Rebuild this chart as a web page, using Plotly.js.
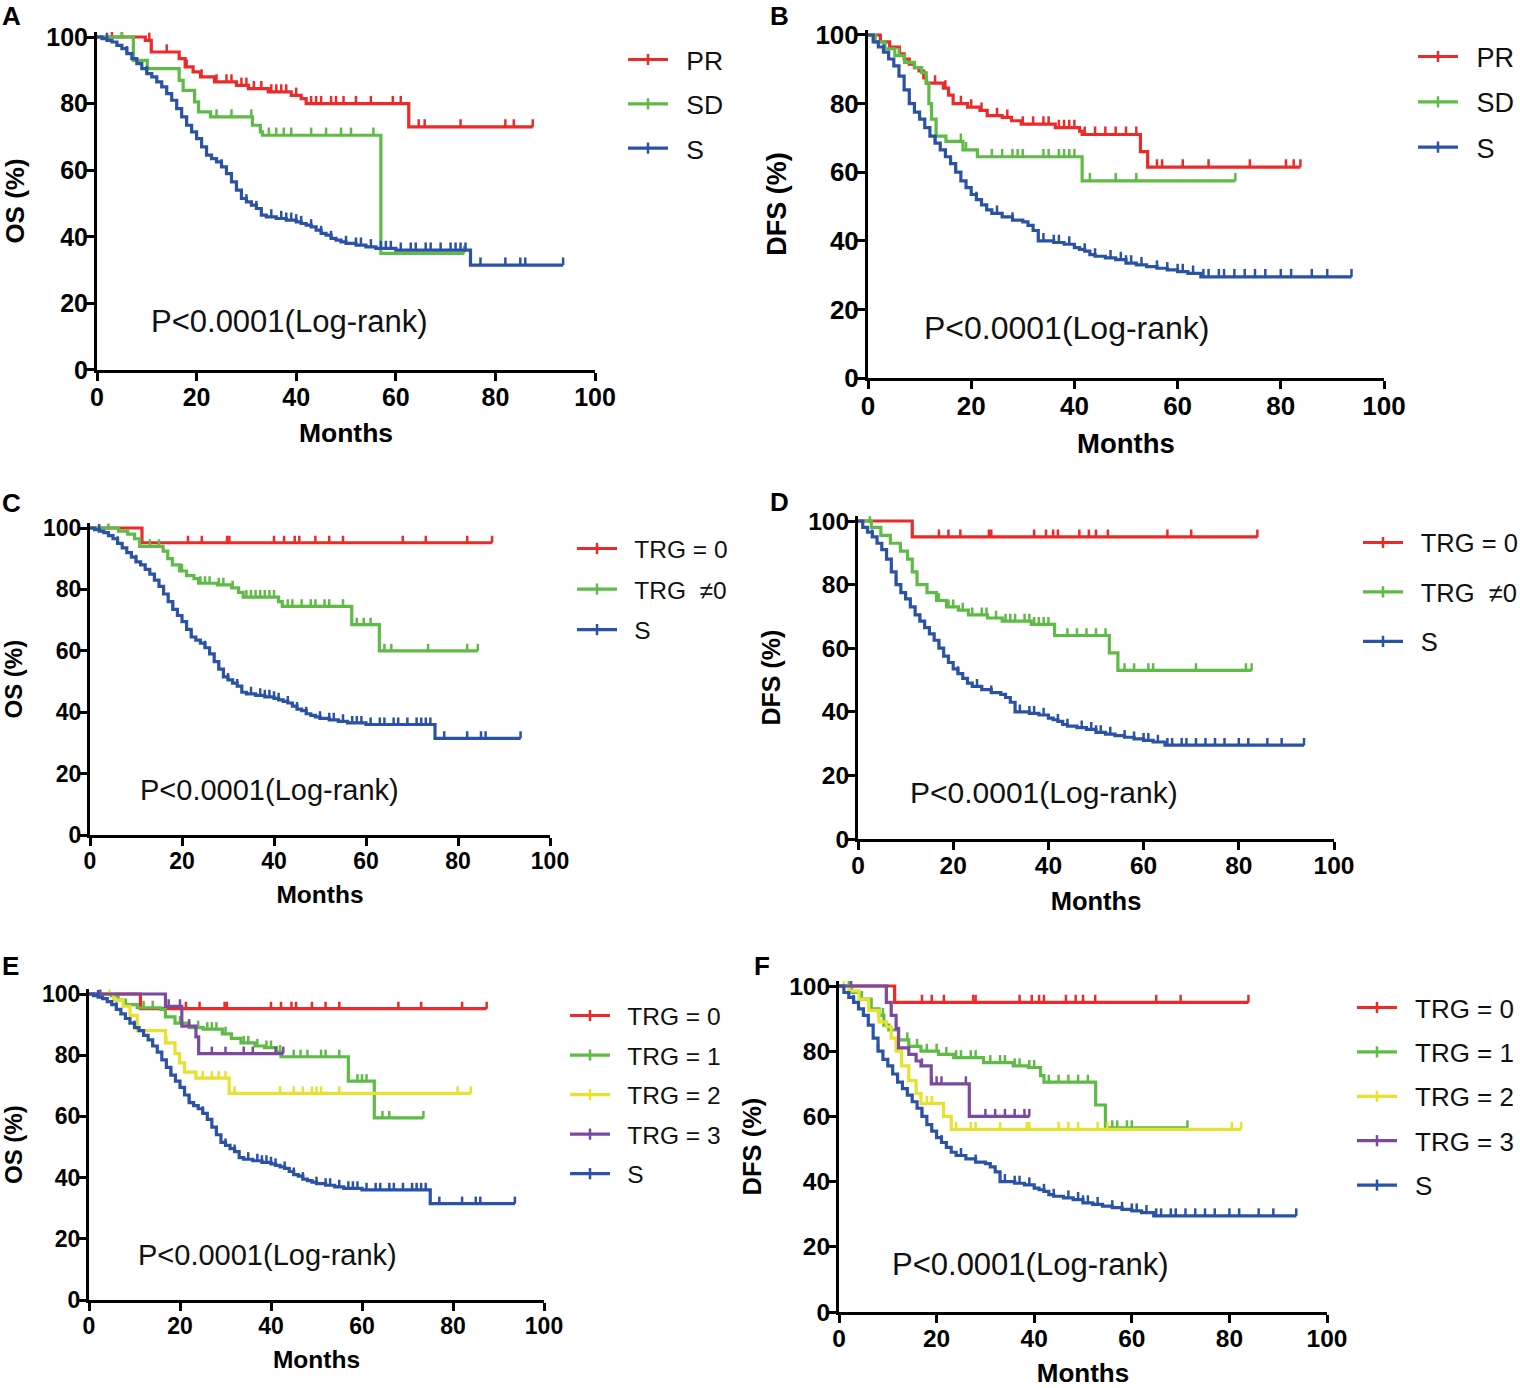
<!DOCTYPE html>
<html><head><meta charset="utf-8">
<script src="https://cdn.plot.ly/plotly-3.0.1.min.js"></script>
<style>html,body{margin:0;padding:0;background:#fff}#chart{width:1520px;height:1388px}</style>
</head><body><div id="chart"></div>
<script>
// ================= DATA =================
const xTicks = [0, 20, 40, 60, 80, 100];
const yTicks = [0, 20, 40, 60, 80, 100];
const panelLetters = ['A', 'B', 'C', 'D', 'E', 'F'];
const yTitles = ['OS (%)', 'DFS (%)', 'OS (%)', 'DFS (%)', 'OS (%)', 'DFS (%)'];
const xTitle = 'Months';
const pText = 'P<0.0001(Log-rank)';
const namesAB = ['PR', 'SD', 'S'];
const namesCD = ['TRG = 0', 'TRG \u00a0\u22600', 'S'];
const namesEF = ['TRG = 0', 'TRG = 1', 'TRG = 2', 'TRG = 3', 'S'];

// ---- OS, surgery alone (S) : used in A, C, E ----
const osS_t = [0,1,2,3,4,5,6,7,8,9,10,11,12,13,14,15,16,17,18,19,20,21,22,23,24,25,26,27,28,29,30,31,32,33,34,36,38,40,41,42,43,44,45,46,47,48,49,50,52,54,56,60,75];
const osS_s = [100,99.5,99,98.5,97.5,96.5,95,93.5,92,90.5,89,88,86.5,85,83,81,78.5,76,73.5,71.5,69.5,67,64.5,63.5,62.5,61,59,56.5,54,51.5,50.5,49.5,48.5,46.5,46,45.5,45,44.5,44,43.5,43,42,41,40.5,39.5,39,38.5,38,37.5,37,36.5,36,31.5];
const osS_c = [2,6,10,14,18,22,25,28,30,32,35,37,38,39,40,41,43,45,47,50,52,53,55,57,58,59,61,63,64,66,67,69,71,72,73,74,77,82,85,86,93.6];

// ---- DFS, surgery alone (S) : used in B, D, F ----
const dfsS_t = [0,1,2,3,4,5,6,7,8,9,10,11,12,13,14,15,16,17,18,19,20,21,22,23,24,26,28,30,31,32,33,36,38,40,41,42,43,44,46,48,50,52,54,56,58,60,62,64.5];
const dfsS_s = [100,98,96.5,95,93,91,88,84,80,77.5,75.5,73,70.5,68.5,66.5,64.5,62.5,60,57.5,55.5,53.5,52,50.5,49,48,47,46,45.5,44.5,43,40,39.5,39,38,37.5,37,36,35.5,35,34.5,33.5,33,32.5,32,31.5,31,30.5,29.5];
const dfsS_c = [3,8,13,17,21,25,28,34,36,37,39,42,44,47,49,50,51,53,56,58,60,61,63,65,66,68,69,71,73,75,77,80,82,86,89,93.7];

// ---- A : OS by response ----
const osPR_t = [0,9.7,10.9,16.5,17.7,19.3,20.8,23.6,28,30.4,34.4,39,41,42,62.6];
const osPR_s = [100,99,95.5,93.5,91,89.5,88,86.5,85.5,84.5,83.5,82.5,81.5,80,73];
const osPR_c = [3,5,10.5,14,18,21,24,26,27,29,30,31.5,33,35,36,37,38,40,43,44,45,47,48,49.5,52,55,59.4,61,64.6,65.8,73,82,83.7,87.5];
const osSD_t = [0,7.3,10.1,16.5,17.3,19.6,20.4,22.8,31.2,32.8,33.2,57];
const osSD_s = [100,93,90.5,87,84,80.5,77.5,76,73.5,71.5,70.5,35];
const osSD_c = [5,24,27,31,34.5,36,37.5,39,43,46,49,51,55.5,73.7];

// ---- B : DFS by response ----
const dfsPR_t = [0,2.4,4.2,6.1,7,8,9,9.9,10.8,11.3,14.6,15.6,16.5,19.3,21.7,23.1,26,27.8,29.7,36.3,41,41.5,52.8,54.2];
const dfsPR_s = [100,98,96.5,94.5,93,91.5,90.5,89.5,87.5,86,84.5,82.5,80,79,78,76.5,76,75,74,73,72,71,66,61.5];
const dfsPR_c = [13,15,18,20,22,25,27,30,32,34,35,37,38,39,40,42,44,46,48,50,52,56,57,61,66,74,81,82.5,83.8];
const dfsSD_t = [0,1.4,3.3,5.2,7.1,9,10.4,11.3,11.8,12.3,13.2,15.1,18.4,21.2,41.5];
const dfsSD_s = [100,98,96,94,92,90.5,89,86,80,75.5,70.5,69,66.5,64.5,57.5];
const dfsSD_c = [6,18,19,24,26,28,29,30,34,35,37,38,39,40,43,48,52,71.2];

// ---- TRG = 0 (C, E : OS ; D, F : DFS) ----
const osT0_t = [0,11.3];
const osT0_s = [100,95.2];
const osT0_c = [21.3,24.3,29.8,30.3,40,42.2,44.5,45.5,49,52,55,68,73,82,87.4];
const dfsT0_t = [0,11.4];
const dfsT0_s = [100,95];
const dfsT0_c = [17,19,21.5,27.5,28,37,39.5,41,42,46.5,48.5,50,52.5,65,70,83.9];

// ---- C / D : TRG != 0 ----
const osTn_t = [0,6.2,8.2,9.7,10.8,15.9,16.9,17.9,19.5,21,22.6,23.6,27.7,30.8,32.3,33.3,41,41.8,56.9,62.9];
const osTn_s = [100,99,98,96.5,94,92.5,90,88,86,84.5,83.5,82,81.5,80.5,79,77.5,76,74.5,68.5,60];
const osTn_c = [4,13,15,20,24,25,26,28,29,31,34,35,36,37,38,39,40,43,44,46,48,49,51,52,55,58,59.5,61,64,65.5,73.5,82,84.3];
const dfsTn_t = [0,2.8,4.8,6.8,8.9,10.4,11.4,12.4,14.5,16.5,18.6,21.1,23.2,27.2,30.3,36.4,41.3,52.8,54.6];
const dfsTn_s = [100,98,95.5,93,90.5,88,84,80,77.5,75,73,72,70.5,69.5,68.5,67.5,64,58.5,53];
const dfsTn_c = [2.5,17,19,20,22,24,26,27,29,31,32,33,35,36,37,38,39,40,44,46,48,50,52,56,58,61,62,71,81.5,82.7];

// ---- E : OS by TRG 1-3 ----
const osT1_t = [0,4.9,6.4,8,10.6,15.8,16.8,18.9,22,25.1,29.3,31.3,33.4,36.5,38.6,41.2,42.2,57,62.7];
const osT1_s = [100,99.5,98,96.5,95.5,95,92.5,90.5,89,88.5,87,85.5,84,83,82.5,81,79.5,71.5,59.5];
const osT1_c = [12,14,20,24,26,27,28,30,34,35,37,39,40,42,45,46.5,48,51,52,55,59,60,61,64.5,66,73.5];
const osT2_t = [0,5.4,7.5,9,10.6,16.8,18.9,19.9,21,23.5,30.8];
const osT2_s = [100,98,96,93,88,84,80.5,77.5,74.5,72.5,67.5];
const osT2_c = [4.5,17,25,27,28.5,30,32,42,45,47,49,50,51,55,81,83.9];
const osT3_t = [0,16.8,20.4,23.5,24.1];
const osT3_s = [100,96,89.5,86,80.5];
const osT3_c = [2.5,17.5,20,22,27,30,34,36,41,42.7];

// ---- F : DFS by TRG 1-3 ----
const dfsT1_t = [0,2.6,4.6,6.6,8.2,9.2,10.2,12.2,14.3,16.8,20.4,23.5,29.6,35.7,38.8,41.3,42,52.6,54.6];
const dfsT1_s = [100,98,96,93,91,88,86.5,83.5,81.5,80,79,78,76.5,75.5,75,72.5,70.5,63.5,56.5];
const dfsT1_c = [2,9,14,16,18,20,22,24,25,27,28,31,33,34,36,37,39,40,43,45,47,49,51,56,57,59,60,71.4];
const dfsT2_t = [0,2,4.1,6.1,8.2,9.7,10.7,11.7,12.8,14.3,15.8,16.8,21.4,23];
const dfsT2_s = [100,98.5,96,92.5,89,87.5,84,80,75.5,71,67,64,60,56];
const dfsT2_c = [1,18,19,24,27,28,33,38.5,39,45,47,49,53,55,80.5,82.4];
const dfsT3_t = [0,9.7,10.7,11.7,12.2,14.3,15.8,16.8,18.9,26.7];
const dfsT3_s = [100,95,91,87,81,79,77,75.5,70,60];
const dfsT3_c = [2.5,17,19,20,21,26,30,32,34,36,38,39];

// ================= STYLE / LAYOUT =================
const COL = {red:'#ec2a2a', green:'#5dbb46', blue:'#2a52a6', yellow:'#e6e22e', purple:'#7b4a9f'};
const W = 1520, H = 1388;
const YMAX = 101.5;

const panels = [
  {names:namesAB, series:[[osPR_t,osPR_s,osPR_c,COL.red],[osSD_t,osSD_s,osSD_c,COL.green],[osS_t,osS_s,osS_c,COL.blue]],
   px:{x0:97,x1:595,y0:370,y1:37}, leg:{x:630,y:60,gap:44,fs:26.5}, fs:25, tfs:26.5, pfs:31, letter:[0,16]},
  {names:namesAB, series:[[dfsPR_t,dfsPR_s,dfsPR_c,COL.red],[dfsSD_t,dfsSD_s,dfsSD_c,COL.green],[dfsS_t,dfsS_s,dfsS_c,COL.blue]],
   px:{x0:868,x1:1384,y0:378,y1:35}, leg:{x:1420,y:57,gap:45,fs:27}, fs:26, tfs:27.5, pfs:32, letter:[768,16]},
  {names:namesCD, series:[[osT0_t,osT0_s,osT0_c,COL.red],[osTn_t,osTn_s,osTn_c,COL.green],[osS_t,osS_s,osS_c,COL.blue]],
   px:{x0:90,x1:550,y0:835,y1:528}, leg:{x:579,y:549,gap:40,fs:24.5}, fs:23, tfs:24.5, pfs:29, letter:[0,503]},
  {names:namesCD, series:[[dfsT0_t,dfsT0_s,dfsT0_c,COL.red],[dfsTn_t,dfsTn_s,dfsTn_c,COL.green],[dfsS_t,dfsS_s,dfsS_c,COL.blue]],
   px:{x0:858,x1:1334,y0:839,y1:521}, leg:{x:1365,y:543,gap:49,fs:25.5}, fs:24.5, tfs:25.5, pfs:30, letter:[768,502]},
  {names:namesEF, series:[[osT0_t,osT0_s,osT0_c,COL.red],[osT1_t,osT1_s,osT1_c,COL.green],[osT2_t,osT2_s,osT2_c,COL.yellow],[osT3_t,osT3_s,osT3_c,COL.purple],[osS_t,osS_s,osS_c,COL.blue]],
   px:{x0:89,x1:544,y0:1300,y1:994}, leg:{x:572,y:1016,gap:39,fs:24.5}, fs:23, tfs:24.5, pfs:29, letter:[0,966]},
  {names:namesEF, series:[[dfsT0_t,dfsT0_s,dfsT0_c,COL.red],[dfsT1_t,dfsT1_s,dfsT1_c,COL.green],[dfsT2_t,dfsT2_s,dfsT2_c,COL.yellow],[dfsT3_t,dfsT3_s,dfsT3_c,COL.purple],[dfsS_t,dfsS_s,dfsS_c,COL.blue]],
   px:{x0:839,x1:1327,y0:1312,y1:986}, leg:{x:1359,y:1008,gap:44,fs:26}, fs:24.5, tfs:26, pfs:31, letter:[752,966]}
];

function survAt(t, s, x) {
  let v = s[0];
  for (let i = 0; i < t.length; i++) { if (t[i] <= x) v = s[i]; else break; }
  return v;
}

const FONT = 'Arial, "Liberation Sans", Helvetica, sans-serif';
const traces = [];
const layout = {
  width: W, height: H, margin: {l:0, r:0, t:0, b:0, autoexpand: false},
  paper_bgcolor: '#fff', plot_bgcolor: 'rgba(0,0,0,0)',
  font: {family: FONT, color: '#111'},
  showlegend: true, annotations: []
};

panels.forEach((p, k) => {
  const n = k + 1;
  const xa = 'xaxis' + (n === 1 ? '' : n), ya = 'yaxis' + (n === 1 ? '' : n);
  const xr = 'x' + (n === 1 ? '' : n), yr = 'y' + (n === 1 ? '' : n);
  const lg = 'legend' + (n === 1 ? '' : n);
  const ppu = (p.px.y0 - p.px.y1) / 100;
  const topPx = p.px.y0 - YMAX * ppu;
  const axCommon = {
    showline: true, linewidth: 3, linecolor: '#000', mirror: false,
    ticks: 'outside', ticklen: 8, tickwidth: 3, tickcolor: '#000',
    showgrid: false, zeroline: false, fixedrange: true, automargin: false,
    tickfont: {family: FONT, size: p.fs, weight: 'bold', color: '#000'}
  };
  layout[xa] = Object.assign({}, axCommon, {
    domain: [p.px.x0 / W, p.px.x1 / W], range: [0, 100], anchor: yr,
    tickvals: xTicks, ticktext: xTicks.map(String), ticklabelstandoff: -5,
    title: {text: xTitle, font: {family: FONT, size: p.tfs, weight: 'bold', color: '#000'}, standoff: 14}
  });
  layout[ya] = Object.assign({}, axCommon, {
    domain: [1 - p.px.y0 / H, 1 - topPx / H], range: [0, YMAX], anchor: xr,
    tickvals: yTicks, ticktext: yTicks.map(String), ticklabelstandoff: -7,
    title: {text: yTitles[k], font: {family: FONT, size: p.tfs - 0.5, weight: 'bold', color: '#000'}, standoff: 21}
  });
  layout[lg] = {
    x: (p.leg.x - 7) / W, y: 1 - (p.leg.y - p.leg.fs * 0.65 - 7) / H, xanchor: 'left', yanchor: 'top',
    bgcolor: 'rgba(0,0,0,0)', borderwidth: 0, font: {family: FONT, size: p.leg.fs, color: '#111'},
    tracegroupgap: Math.max(0, p.leg.gap - p.leg.fs * 1.4), itemwidth: 40, traceorder: 'grouped'
  };
  p.series.forEach((sr, j) => {
    const [t, s, c, color] = sr;
    const end = Math.max.apply(null, c.concat([t[t.length - 1]]));
    traces.push({
      type: 'scatter', mode: 'lines', xaxis: xr, yaxis: yr, showlegend: false, hoverinfo: 'skip',
      x: t.concat([end]), y: s.concat([s[s.length - 1]]),
      line: {color: color, width: 3.2, shape: 'hv'}
    });
    traces.push({
      type: 'scatter', mode: 'markers', xaxis: xr, yaxis: yr, showlegend: false, hoverinfo: 'skip',
      x: c, y: c.map(v => survAt(t, s, v)),
      marker: {size: 1, color: color},
      error_y: {type: 'constant', symmetric: false, value: 2.3, valueminus: 0, width: 0, thickness: 2.5, color: color}
    });
    traces.push({
      type: 'scatter', mode: 'lines+markers', xaxis: xr, yaxis: yr, legend: lg, legendgroup: 'g' + n + '_' + j,
      name: '\u2002' + p.names[j], x: [null], y: [null],
      line: {color: color, width: 3.2}, marker: {symbol: 'line-ns', size: 8, line: {width: 2.5, color: color}}
    });
  });
  layout.annotations.push({xref: 'paper', yref: 'paper', x: p.letter[0] / W, y: 1 - p.letter[1] / H,
    xanchor: 'left', yanchor: 'middle', showarrow: false, text: panelLetters[k],
    font: {family: FONT, size: 26, weight: 'bold', color: '#000'}});
  layout.annotations.push({xref: xr, yref: yr, x: 10.4, y: 14.6, xanchor: 'left', yanchor: 'middle',
    showarrow: false, text: pText, font: {family: FONT, size: p.pfs, color: '#111'}});
});

Plotly.newPlot('chart', traces, layout, {staticPlot: true, displayModeBar: false});
</script>
</body></html>
